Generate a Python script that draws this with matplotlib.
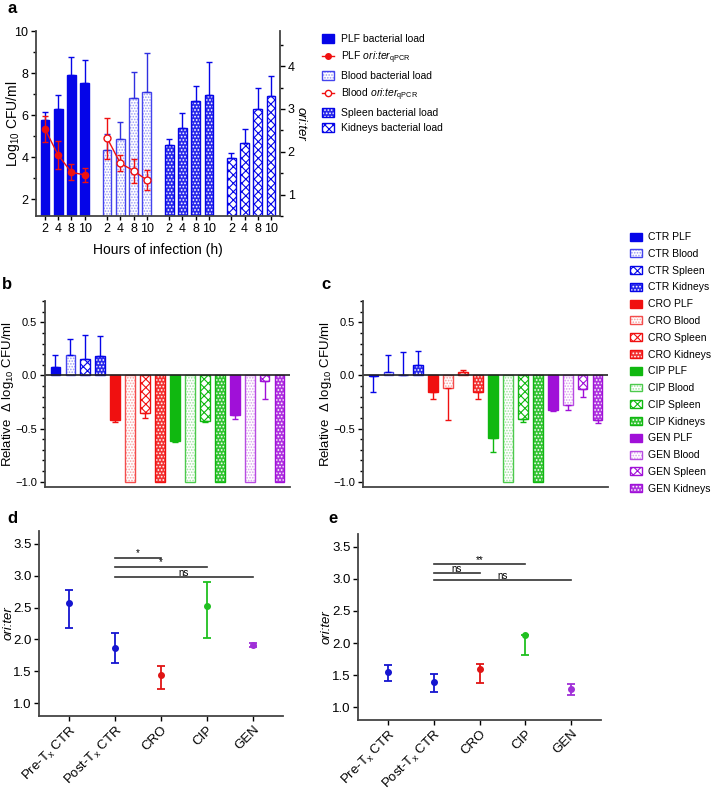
import numpy as np
import matplotlib
matplotlib.use('Agg')
import matplotlib.pyplot as plt
from matplotlib.patches import Patch
from matplotlib.lines import Line2D
from matplotlib.ticker import MultipleLocator, FixedLocator
from matplotlib.colors import to_rgb

plt.rcParams['font.family'] = ['Liberation Sans', 'DejaVu Sans']
plt.rcParams['mathtext.fontset'] = 'custom'
plt.rcParams['mathtext.rm'] = 'Liberation Sans'
plt.rcParams['mathtext.it'] = 'Liberation Sans:italic'
plt.rcParams['mathtext.default'] = 'regular'
plt.rcParams['hatch.linewidth'] = 0.8

# ---- данные панели a ----
hours = ['2', '4', '8', '10']
plf_load = [5.76, 6.29, 7.92, 7.54]
plf_load_err = [0.37, 0.66, 0.86, 1.06]
blood_load = [4.32, 4.85, 6.80, 7.08]
blood_load_err = [0.79, 0.81, 1.23, 1.89]
spleen_load = [4.57, 5.40, 6.68, 6.97]
spleen_load_err = [0.29, 0.68, 0.72, 1.55]
kidney_load = [3.98, 4.67, 6.27, 6.90]
kidney_load_err = [0.22, 0.68, 1.02, 0.95]
plf_oriter = [2.53, 1.92, 1.52, 1.46]
plf_oriter_err = [0.30, 0.33, 0.19, 0.16]
blood_oriter = [2.32, 1.73, 1.56, 1.34]
blood_oriter_err = [0.48, 0.19, 0.28, 0.23]

# ---- данные панелей b, c ----
treatments = ['CTR', 'CRO', 'CIP', 'GEN']
organs = ['PLF', 'Blood', 'Spleen', 'Kidneys']
b_vals = [0.08, 0.19, 0.15, 0.18, -0.42, -1.0, -0.35, -1.0,
          -0.62, -1.0, -0.43, -1.0, -0.37, -1.0, -0.05, -1.0]
b_err = [0.11, 0.15, 0.23, 0.19, 0.02, 0.0, 0.05, 0.0,
         0.01, 0.0, 0.005, 0.0, 0.04, 0.0, 0.17, 0.0]
c_vals = [-0.003, 0.03, 0.005, 0.095, -0.16, -0.12, 0.03, -0.16,
          -0.59, -1.0, -0.41, -1.0, -0.33, -0.28, -0.13, -0.42]
c_err = [0.15, 0.16, 0.215, 0.135, 0.06, 0.30, 0.02, 0.06,
         0.13, 0.0, 0.03, 0.0, 0.005, 0.05, 0.07, 0.025]

# ---- данные панелей d, e ----
groups = ['Pre-T$_x$ CTR', 'Post-T$_x$ CTR', 'CRO', 'CIP', 'GEN']
d_vals = [2.57, 1.86, 1.45, 2.53, 1.92]
d_lo = [2.18, 1.63, 1.23, 2.03, 1.88]
d_hi = [2.77, 2.10, 1.58, 2.90, 1.94]
e_vals = [1.545, 1.40, 1.60, 2.12, 1.28]
e_lo = [1.41, 1.24, 1.38, 1.82, 1.19]
e_hi = [1.665, 1.52, 1.675, 2.12, 1.36]
d_sig = [(1, 2, 3.28, '*'), (1, 3, 3.14, '*'), (1, 4, 2.98, 'ns')]
e_sig = [(1, 3, 3.225, '**'), (1, 2, 3.09, 'ns'), (1, 4, 2.98, 'ns')]

BLUE = '#0505E8'
RED = '#F01010'
GREEN = '#10B810'
PURPLE = '#A010D8'
tr_colors = [BLUE, RED, GREEN, PURPLE]
pt_colors = ['#1515D0', '#1515D0', '#E01515', '#20C020', '#A030D8']
SPINE = '#444444'

W, H = 713, 791
fig = plt.figure(figsize=(W / 100, H / 100), dpi=100)


def px_axes(l, t, r, b):
    return fig.add_axes([l / W, 1 - b / H, (r - l) / W, (b - t) / H])


def lighter(c, f):
    r = np.array(to_rgb(c))
    return tuple(r + (1 - r) * f)


def style_layers(color, style):
    # слои одного столбца
    if style == 'solid':
        return [dict(facecolor=color, edgecolor=color, lw=1)]
    if style == 'dots':
        return [dict(facecolor='white', edgecolor=lighter(color, 0.6), hatch='......', lw=0),
                dict(fill=False, edgecolor=lighter(color, 0.25), lw=1)]
    if style == 'checker':
        return [dict(facecolor='white', edgecolor=color, hatch='xxxx', lw=0),
                dict(fill=False, edgecolor=color, lw=1)]
    return [dict(facecolor=lighter(color, 0.15), edgecolor='white', hatch='.....', lw=0),
            dict(fill=False, edgecolor=color, lw=1)]


def draw_bar(ax, x, h, color, style, width, bottom=0):
    for kw in style_layers(color, style):
        ax.bar(x, h, width, bottom=bottom, **kw)


def legend_handle(color, style):
    return tuple(Patch(**kw) for kw in style_layers(color, style))


def style_spines(ax, sides, labelsize=8.5):
    for s in ['left', 'right', 'top', 'bottom']:
        ax.spines[s].set_visible(s in sides)
        ax.spines[s].set_color(SPINE)
        ax.spines[s].set_linewidth(1.3)
    ax.tick_params(colors='black', labelsize=labelsize, width=1, length=3.5, pad=2)
    ax.tick_params(which='minor', width=1, length=2)


def place_ylabel(ax, text, x_px, left_px, width_px, **kw):
    ax.set_ylabel(text, va='center', **kw)
    ax.yaxis.set_label_coords((x_px - left_px) / width_px, 0.5)


# ================= a =================
ax = px_axes(36, 31, 280, 216)
a_styles = ['solid', 'dots', 'dense', 'checker']
a_loads = [plf_load, blood_load, spleen_load, kidney_load]
a_errs = [plf_load_err, blood_load_err, spleen_load_err, kidney_load_err]
offsets = [0, 4.7, 9.4, 14.1]
ybase = 1.2
xticks, xlabels = [], []
for g in range(4):
    xs = offsets[g] + np.arange(4)
    for i in range(4):
        draw_bar(ax, xs[i], a_loads[g][i] - ybase, BLUE, a_styles[g], 0.65, bottom=ybase)
    ax.errorbar(xs, a_loads[g], yerr=[np.zeros(4), a_errs[g]], fmt='none',
                ecolor=BLUE if g != 1 else '#3030E0', elinewidth=1, capsize=2.5, capthick=1)
    xticks += list(xs)
    xlabels += hours
ax.set_xlim(-0.68, 17.78)
ax.set_ylim(ybase, 10)
ax.set_yticks([2, 4, 6, 8, 10])
ax.yaxis.set_minor_locator(FixedLocator([3, 5, 7, 9]))
ax.set_xticks(xticks)
ax.set_xticklabels(xlabels)
style_spines(ax, ['left', 'bottom'], labelsize=9)
ax.tick_params(axis='x', length=3)
place_ylabel(ax, 'Log$_{10}$ CFU/ml', 12.5, 36, 244, fontsize=10)
ax.set_xlabel('Hours of infection (h)', fontsize=10, labelpad=6)

ax2 = ax.twinx()
ax2.set_position(ax.get_position())
ax2.errorbar(offsets[0] + np.arange(4), plf_oriter, yerr=plf_oriter_err, color=RED, marker='o',
             ms=4.5, lw=1, elinewidth=1, capsize=2.5, capthick=1)
ax2.errorbar(offsets[1] + np.arange(4), blood_oriter, yerr=blood_oriter_err, color=RED, marker='o',
             ms=5, mfc='white', mec=RED, mew=1, lw=1, elinewidth=1, capsize=2.5, capthick=1)
ax2.set_ylim(0.5, 4.82)
ax2.set_yticks([1, 2, 3, 4])
ax2.yaxis.set_minor_locator(MultipleLocator(0.5))
style_spines(ax2, ['right'], labelsize=9)
ax2.set_ylabel('ori:ter', fontsize=9.5, style='italic', rotation=270, va='center')
ax2.yaxis.set_label_coords((301 - 36) / 244, 0.5)

a_handles = [legend_handle(BLUE, 'solid'),
             Line2D([], [], color=RED, marker='o', ms=4, lw=1),
             legend_handle(BLUE, 'dots'),
             Line2D([], [], color=RED, marker='o', ms=4.5, mfc='white', lw=1),
             legend_handle(BLUE, 'dense'),
             legend_handle(BLUE, 'checker')]
a_labels = ['PLF bacterial load', r'PLF $\mathit{ori}$:$\mathit{ter}_{qPCR}$',
            'Blood bacterial load', r'Blood $\mathit{ori}$:$\mathit{ter}_{qPCR}$',
            'Spleen bacterial load', 'Kidneys bacterial load']
fig.legend(a_handles, a_labels, loc='upper left', bbox_to_anchor=(318 / W, 1 - 30 / H),
           frameon=False, fontsize=7.5, handlelength=1.1, handleheight=0.9,
           handletextpad=0.7, labelspacing=0.5, borderaxespad=0)

# ================= b, c =================
bc_styles = ['solid', 'dots', 'checker', 'dense']


def delta_panel(ax, vals, errs):
    x = np.arange(16)
    for k in range(16):
        draw_bar(ax, x[k], vals[k], tr_colors[k // 4], bc_styles[k % 4], 0.65)
        if errs[k] > 0:
            yerr = [[0], [errs[k]]] if vals[k] >= 0 else [[errs[k]], [0]]
            ax.errorbar(x[k], vals[k], yerr=yerr, fmt='none', ecolor=tr_colors[k // 4],
                        elinewidth=1, capsize=2.5, capthick=1)
    ax.axhline(0, color='#222222', lw=1.2)
    ax.set_xlim(-0.7, 15.7)
    ax.set_ylim(-1.05, 0.7)
    ax.set_yticks([-1.0, -0.5, 0.0, 0.5])
    ax.yaxis.set_minor_locator(MultipleLocator(0.1))
    ax.set_xticks([])
    style_spines(ax, ['left', 'bottom'], labelsize=8)


axb = px_axes(45, 301, 290, 487)
delta_panel(axb, b_vals, b_err)
place_ylabel(axb, 'Relative  Δ log$_{10}$ CFU/ml', 8.5, 45, 245, fontsize=9.5)
axc = px_axes(363, 301, 608, 487)
delta_panel(axc, c_vals, c_err)
place_ylabel(axc, 'Relative  Δ log$_{10}$ CFU/ml', 326, 363, 245, fontsize=9.5)

bc_handles = [legend_handle(tr_colors[t], bc_styles[o]) for t in range(4) for o in range(4)]
bc_labels = [f'{treatments[t]} {organs[o]}' for t in range(4) for o in range(4)]
fig.legend(bc_handles, bc_labels, loc='upper left', bbox_to_anchor=(626 / W, 1 - 228 / H),
           frameon=False, fontsize=7.5, handlelength=1.15, handleheight=0.8,
           handletextpad=0.6, labelspacing=0.65, borderaxespad=0)


# ================= d, e =================
def oriter_panel(ax, vals, lo, hi, sig):
    x = np.arange(5)
    for i in range(5):
        ax.errorbar(x[i], vals[i], yerr=[[vals[i] - lo[i]], [hi[i] - vals[i]]], fmt='o',
                    color=pt_colors[i], ms=4, elinewidth=1.3, capsize=3, capthick=1.3)
    for x0, x1, y, txt in sig:
        ax.plot([x0, x1], [y, y], color='#333333', lw=1.2)
        ax.text((x0 + x1) / 2, y - 0.01, txt, ha='center', va='bottom', fontsize=7)
    ax.set_xlim(-0.65, 4.65)
    ax.set_ylim(0.8, 3.7)
    ax.set_yticks([1.0, 1.5, 2.0, 2.5, 3.0, 3.5])
    ax.set_xticks(x)
    ax.set_xticklabels(groups, rotation=45, ha='right', rotation_mode='anchor', fontsize=10)
    style_spines(ax, ['left', 'bottom'], labelsize=9.5)


axd = px_axes(39, 531, 283, 716)
oriter_panel(axd, d_vals, d_lo, d_hi, d_sig)
place_ylabel(axd, 'ori:ter', 9, 39, 244, fontsize=9.5, style='italic')
axe = px_axes(358, 534, 601, 720)
oriter_panel(axe, e_vals, e_lo, e_hi, e_sig)
place_ylabel(axe, 'ori:ter', 327, 358, 243, fontsize=9.5, style='italic')

# буквы панелей
for lbl, px, py in [('a', 7, 1), ('b', 2, 277), ('c', 321, 277), ('d', 7, 511), ('e', 328, 511)]:
    fig.text(px / W, 1 - py / H, lbl, fontsize=12, fontweight='bold', va='top', ha='left')

fig.savefig('out.png', dpi=100)
